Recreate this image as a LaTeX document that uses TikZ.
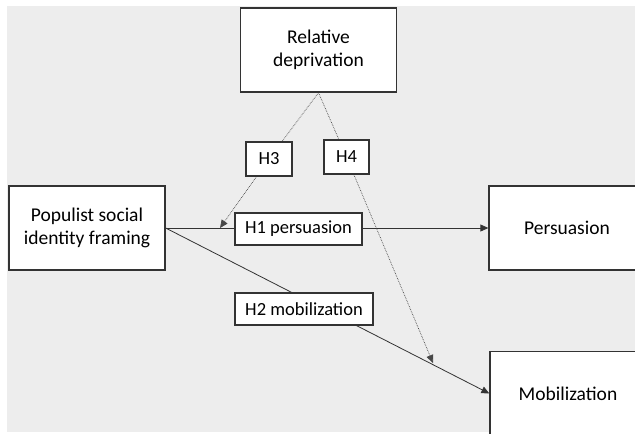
\documentclass[tikz,border=0pt]{standalone}
\usepackage{fontspec}
\setmainfont{Carlito}
\usetikzlibrary{arrows.meta}
\pgfdeclarelayer{back}
\pgfdeclarelayer{links}
\pgfsetlayers{back,links,main}
\definecolor{panel}{HTML}{EDEDED}
\definecolor{ink}{HTML}{333333}

\begin{document}
\begin{tikzpicture}[x=1pt,y=-1pt,
  box/.style={draw=ink,line width=1.3pt,fill=white,minimum width=156pt,minimum height=84pt,
    inner sep=0pt,align=center,font=\fontsize{19.5}{23}\selectfont},
  hbox/.style={draw=ink,line width=1.1pt,fill=white,minimum height=32pt,
    inner xsep=0pt,inner ysep=0pt,font=\fontsize{18.5}{22}\selectfont},
  link/.style={draw=ink,line width=0.8pt},
  modlink/.style={draw=ink!90,line width=0.7pt,densely dotted},
  tip/.style={-{Triangle[length=8pt,width=7pt]}}]
\useasboundingbox (0,0) rectangle (635,434);
\clip (0,0) rectangle (635,434);
\begin{pgfonlayer}{back}
\fill[panel] (7,6) rectangle (635,432);
\end{pgfonlayer}
% main boxes
\node[box] (rel) at (318.5,50) {Relative\\deprivation};
\node[box] (frame) at (87,228) {Populist social\\identity framing};
\node[box] (pers) at (567,228) {Persuasion};
\node[box] (mob) at (568,393.5) {Mobilization};
% hypothesis labels
\node[hbox,minimum width=127pt] (h1) at (298.5,229) {H1 persuasion};
\node[hbox,minimum width=138pt] (h2) at (304,309) {H2 mobilization};
\node[hbox,minimum width=46pt,minimum height=34pt] (h3) at (269,159) {H3};
\node[hbox,minimum width=45pt,minimum height=34pt] (h4) at (346.5,157) {H4};
\coordinate (h3tip) at (220,228);
\coordinate (h4tip) at (433,363);
% paths
\begin{pgfonlayer}{links}
\draw[link] (frame.east)--(h1.west |- frame.east);
\draw[link,tip] (h1.east |- frame.east)--(pers.west);
\draw[link,tip] (frame.east)--(mob.west);
\draw[modlink] (rel.south)--(h3);
\draw[modlink,tip] (h3)--(h3tip);
\draw[modlink] (rel.south)--(h4);
\draw[modlink,tip] (h4)--(h4tip);
\end{pgfonlayer}
\end{tikzpicture}
\end{document}
